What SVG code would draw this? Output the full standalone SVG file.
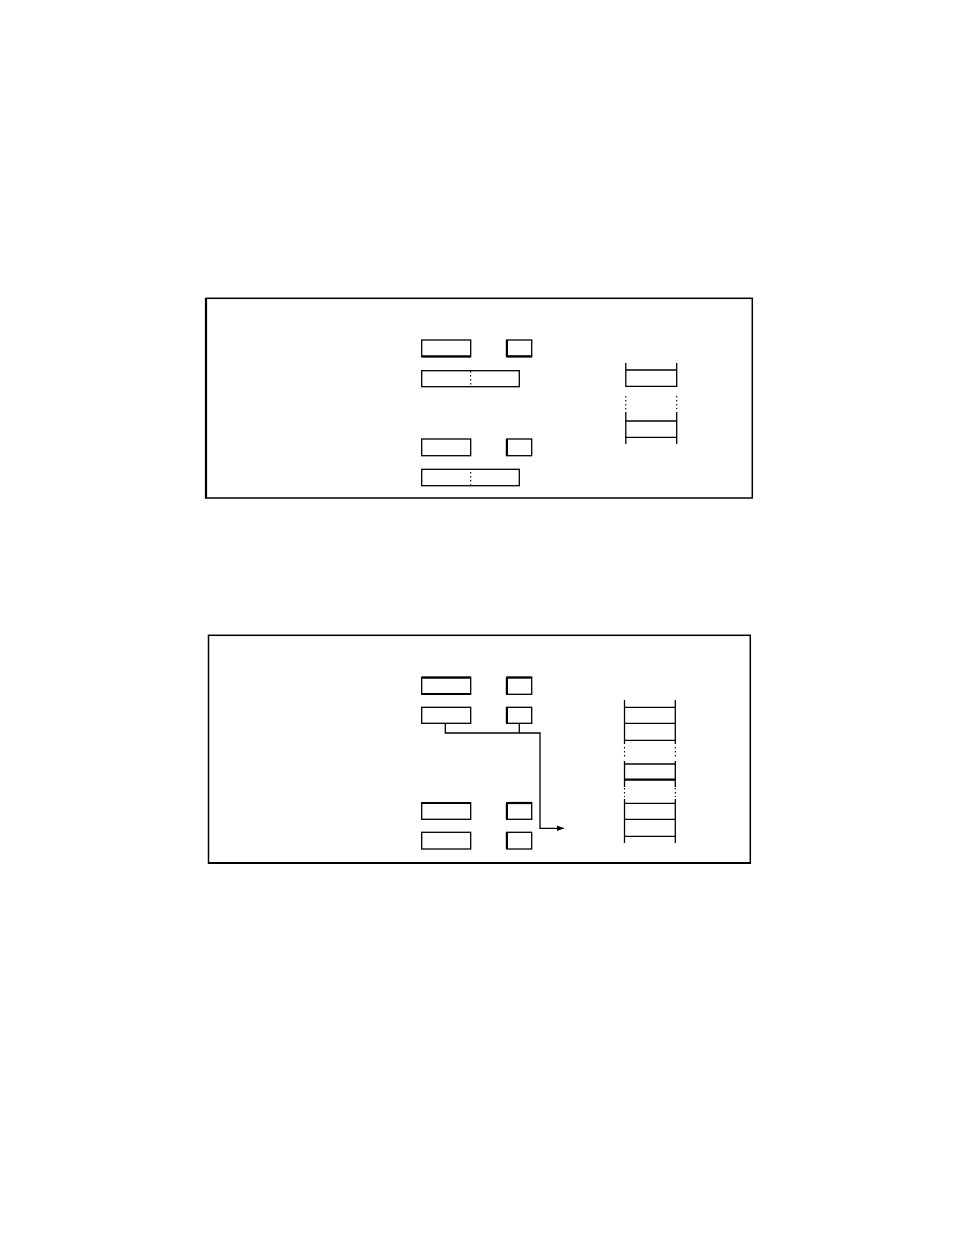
<svg xmlns="http://www.w3.org/2000/svg" width="954" height="1235" viewBox="0 0 954 1235">
<style>
.frame{fill:none;stroke:#000;stroke-width:1.5}
.thick{stroke:#000;stroke-width:2.2;fill:none}
.box{fill:#fff;stroke:#000;stroke-width:1.3}
.ln{stroke:#000;stroke-width:1.3;fill:none}
.dot{stroke:#000;stroke-width:1.1;stroke-dasharray:1.5 2.5;fill:none}
</style>
<defs>
<marker id="arr" markerWidth="8" markerHeight="8" refX="7" refY="4" orient="auto" markerUnits="userSpaceOnUse">
<path d="M0,1 L8,4 L0,7 Z" fill="#000"/>
</marker>
</defs>
<rect width="954" height="1235" fill="#fff"/>

<g id="frame1">
<rect class="frame" x="206" y="298.3" width="546.3" height="199.7"/>
<line class="thick" x1="206" y1="298" x2="206" y2="498.5"/>
</g>
<g id="f1-box-a"><rect class="box" x="421.7" y="340" width="49" height="16.7"/><line class="thick" x1="421.7" y1="356.3" x2="470.7" y2="356.3"/></g>
<g id="f1-box-b"><rect class="box" x="506.7" y="340" width="25" height="16.7"/><line class="thick" x1="506.9" y1="340" x2="506.9" y2="356.7"/><line class="thick" x1="506.7" y1="356.3" x2="531.7" y2="356.3"/></g>
<g id="f1-box-c"><rect class="box" x="421.7" y="370.7" width="97.6" height="16"/><line class="dot" x1="470.7" y1="371" x2="470.7" y2="386.5"/></g>
<g id="f1-box-d"><rect class="box" x="421.7" y="439" width="49" height="16.7"/></g>
<g id="f1-box-e"><rect class="box" x="506.7" y="439" width="25" height="16.7"/><line class="thick" x1="506.9" y1="439" x2="506.9" y2="455.7"/></g>
<g id="f1-box-f"><rect class="box" x="421.7" y="469.3" width="97.6" height="16.4"/><line class="dot" x1="470.7" y1="472" x2="470.7" y2="485.5"/></g>
<g id="f1-stack">
<line class="ln" x1="625.8" y1="363" x2="625.8" y2="387"/>
<line class="dot" x1="625.8" y1="396" x2="625.8" y2="411"/>
<line class="ln" x1="625.8" y1="412" x2="625.8" y2="444"/>
<line class="ln" x1="676.7" y1="363" x2="676.7" y2="387"/>
<line class="dot" x1="676.7" y1="396" x2="676.7" y2="409"/>
<line class="ln" x1="676.7" y1="412" x2="676.7" y2="444"/>
<line class="ln" x1="625.8" y1="370" x2="676.7" y2="370"/>
<line class="ln" x1="625.8" y1="386.3" x2="676.7" y2="386.3"/>
<line class="ln" x1="625.8" y1="421" x2="676.7" y2="421"/>
<line class="ln" x1="625.8" y1="437.3" x2="676.7" y2="437.3"/>
</g>

<g id="frame2">
<rect class="frame" x="208.5" y="635.3" width="541.8" height="227.5"/>
<line class="thick" x1="208" y1="863" x2="751" y2="863"/>
</g>
<g id="f2-box-a"><rect class="box" x="421.7" y="677.3" width="49" height="17"/><line class="thick" x1="421.7" y1="677.6" x2="470.7" y2="677.6"/><line class="thick" x1="421.7" y1="694" x2="470.7" y2="694"/></g>
<g id="f2-box-b"><rect class="box" x="506.7" y="677.3" width="25" height="17"/><line class="thick" x1="506.9" y1="677.3" x2="506.9" y2="694.3"/><line class="thick" x1="506.7" y1="677.6" x2="531.7" y2="677.6"/></g>
<g id="f2-box-c"><rect class="box" x="421.7" y="707.3" width="49" height="16"/></g>
<g id="f2-box-d"><rect class="box" x="506.7" y="707.3" width="25" height="16"/><line class="thick" x1="506.9" y1="707.3" x2="506.9" y2="723.3"/></g>
<g id="f2-box-e"><rect class="box" x="421.7" y="802.7" width="49" height="16.6"/><line class="thick" x1="421.7" y1="803" x2="470.7" y2="803"/></g>
<g id="f2-box-f"><rect class="box" x="506.7" y="802.7" width="25" height="16.6"/><line class="thick" x1="506.9" y1="802.7" x2="506.9" y2="819.3"/><line class="thick" x1="506.7" y1="803" x2="531.7" y2="803"/></g>
<g id="f2-box-g"><rect class="box" x="421.7" y="832.3" width="49" height="16.7"/></g>
<g id="f2-box-h"><rect class="box" x="506.7" y="832.3" width="25" height="16.7"/><line class="thick" x1="506.9" y1="832.3" x2="506.9" y2="849"/></g>
<g id="f2-stack">
<line class="ln" x1="624.5" y1="700" x2="624.5" y2="744"/>
<line class="dot" x1="624.5" y1="747" x2="624.5" y2="758"/>
<line class="ln" x1="624.5" y1="761" x2="624.5" y2="787"/>
<line class="dot" x1="624.5" y1="788" x2="624.5" y2="797"/>
<line class="ln" x1="624.5" y1="799" x2="624.5" y2="843"/>
<line class="ln" x1="675.3" y1="700" x2="675.3" y2="744"/>
<line class="dot" x1="675.3" y1="747" x2="675.3" y2="758"/>
<line class="ln" x1="675.3" y1="761" x2="675.3" y2="787"/>
<line class="dot" x1="675.3" y1="788" x2="675.3" y2="797"/>
<line class="ln" x1="675.3" y1="799" x2="675.3" y2="843"/>
<line class="ln" x1="624.5" y1="707.3" x2="675.3" y2="707.3"/>
<line class="ln" x1="624.5" y1="723.3" x2="675.3" y2="723.3"/>
<line class="ln" x1="624.5" y1="740.3" x2="675.3" y2="740.3"/>
<line class="ln" x1="624.5" y1="764" x2="675.3" y2="764"/>
<line class="thick" x1="624.5" y1="779.7" x2="675.3" y2="779.7"/>
<line class="ln" x1="624.5" y1="803.3" x2="675.3" y2="803.3"/>
<line class="ln" x1="624.5" y1="819.3" x2="675.3" y2="819.3"/>
<line class="ln" x1="624.5" y1="836.3" x2="675.3" y2="836.3"/>
</g>

<g id="connectors">
<polyline class="ln" points="445.3,723.3 445.3,733 540,733 540,828.3 563.5,828.3" marker-end="url(#arr)"/>
<line class="ln" x1="519.3" y1="723.3" x2="519.3" y2="733"/>
</g>
</svg>
